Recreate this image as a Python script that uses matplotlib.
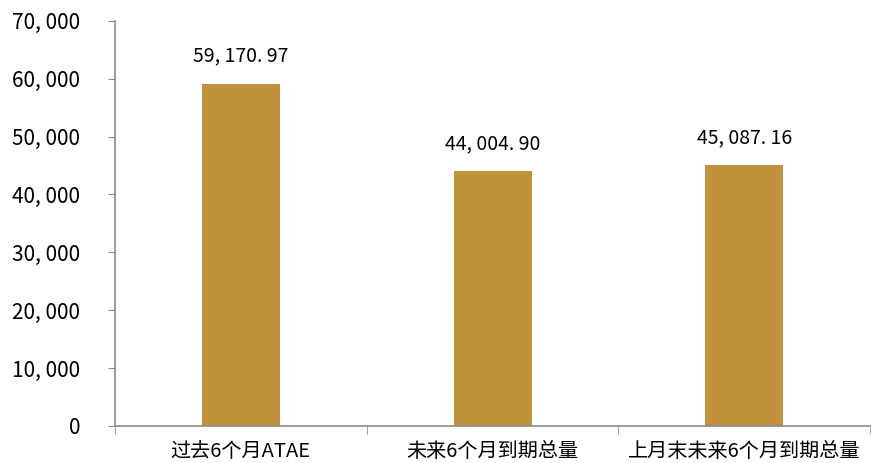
import matplotlib
matplotlib.use("Agg")
import matplotlib.pyplot as plt
import numpy as np

plt.rcParams['font.family'] = ['Noto Sans CJK SC', 'DejaVu Sans']

categories = ["过去6个月ATAE", "未来6个月到期总量", "上月末未来6个月到期总量"]
values = [59170.97, 44004.90, 45087.16]
y_ticks = [0, 10000, 20000, 30000, 40000, 50000, 60000, 70000]
bar_color = "#BF923B"
axis_color = "#8C8C8C"


def fmt_thousands(v, decimals=0):
    s = f"{v:,.{decimals}f}"
    return s.replace(",", ", ").replace(".", ". ")


fig = plt.figure(figsize=(8.71, 4.63), dpi=100)
ax = fig.add_axes([0.132, 0.08, 0.867, 0.875])

x = np.arange(len(categories))
ax.bar(x, values, width=0.31, color=bar_color, zorder=2)

for xi, v in zip(x, values):
    ax.text(xi, v + 2900, fmt_thousands(v, 2), ha='center', va='bottom', fontsize=14)

ax.set_xlim(-0.5, len(categories) - 0.5)
ax.set_ylim(0, 70000)
ax.set_yticks(y_ticks)
ax.set_yticklabels([fmt_thousands(t) for t in y_ticks], fontsize=15)

ax.set_xticks(x)
ax.set_xticklabels(categories, fontsize=14.5)
ax.tick_params(axis='x', length=0, pad=11)
ax.set_xticks(np.arange(-0.5, len(categories)), minor=True)
ax.tick_params(axis='x', which='minor', length=6, direction='out', color=axis_color)
ax.tick_params(axis='y', length=5, direction='out', color=axis_color, pad=20)

for s in ['top', 'right']:
    ax.spines[s].set_visible(False)
for s in ['left', 'bottom']:
    ax.spines[s].set_color(axis_color)
    ax.spines[s].set_linewidth(1.2)

fig.savefig("out.png", dpi=100)
